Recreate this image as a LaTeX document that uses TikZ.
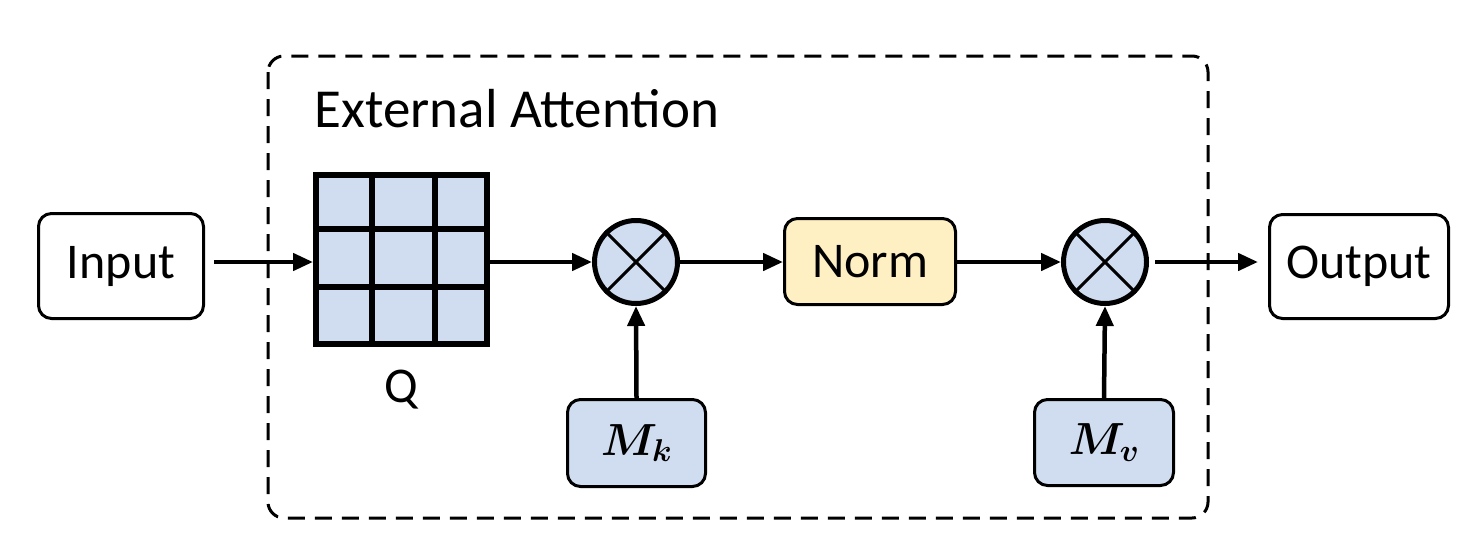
\RequirePackage{fix-cm}
\documentclass[tikz,border=0pt]{standalone}
\usepackage{fontspec}
\setmainfont{Carlito}
\usetikzlibrary{arrows.meta}
\definecolor{qblue}{HTML}{D0DCEF}
\definecolor{nyellow}{HTML}{FFF0C4}
\tikzset{
  box/.style={draw, line width=3pt, rounded corners=13pt, inner sep=0pt, font=\fontsize{50}{60}\selectfont},
  mathbox/.style={box, fill=qblue, font=\fontsize{45}{54}\selectfont\boldmath},
  mult/.style={draw, circle, line width=5pt, fill=qblue, minimum size=83pt, inner sep=0pt},
  conn/.style={line width=4.5pt, -{Triangle[length=20pt,width=17pt]}},
  crossline/.style={line width=3pt},
}
\begin{document}
\begin{tikzpicture}[x=1pt,y=-1pt]
\useasboundingbox (0,0) rectangle (1474,554);
% dashed container
\draw[line width=3pt, dash pattern=on 17pt off 10pt, rounded corners=16pt] (268,56) rectangle (1208,518);
\node[anchor=base west, font=\fontsize{55}{66}\selectfont] (title) at (311,127) {External Attention};
% nodes
\node[box, minimum width=165pt, minimum height=105pt] (in) at (121,266) {Input};
\node[box, minimum width=179pt, minimum height=104pt] (out) at (1359,266.5) {Output};
\node[box, fill=nyellow, minimum width=171pt, minimum height=86pt] (norm) at (870,261.5) {Norm};
\node[mathbox, minimum width=138pt, minimum height=87pt] (mk) at (636.5,443) {$M_k$};
\node[mathbox, minimum width=139pt, minimum height=86pt] (mv) at (1104,442.5) {$M_v$};
% Q grid
\node[draw, line width=6pt, fill=qblue, minimum width=171pt, minimum height=169pt, inner sep=0pt] (q) at (401.5,259.5) {};
\draw[line width=6pt] (372,175) -- (372,344) (435,175) -- (435,344) (316,229) -- (487,229) (316,287) -- (487,287);
\node[font=\fontsize{50}{60}\selectfont] (qlab) at (401,390) {Q};
% multiplication circles
\node[mult] (m1) at (636,262) {};
\node[mult] (m2) at (1105,262) {};
\foreach \m in {m1,m2}{
  \draw[crossline] (\m.45) -- (\m.225);
  \draw[crossline] (\m.135) -- (\m.315);
}
% connectors
\draw[conn] ([xshift=9pt]in.east |- 0,262) -- (q.west |- 0,262);
\draw[conn] (q.east |- 0,262) -- (m1.west);
\draw[conn] (m1.east) -- (norm.west |- 0,262);
\draw[conn] (norm.east |- 0,262) -- (m2.west);
\draw[conn] ([xshift=6pt]m2.east) -- ([xshift=-10pt]out.west |- 0,262);
\draw[conn] (mk.north) -- (m1.south);
\draw[conn] (mv.north) -- (m2.south);
\end{tikzpicture}
\end{document}
